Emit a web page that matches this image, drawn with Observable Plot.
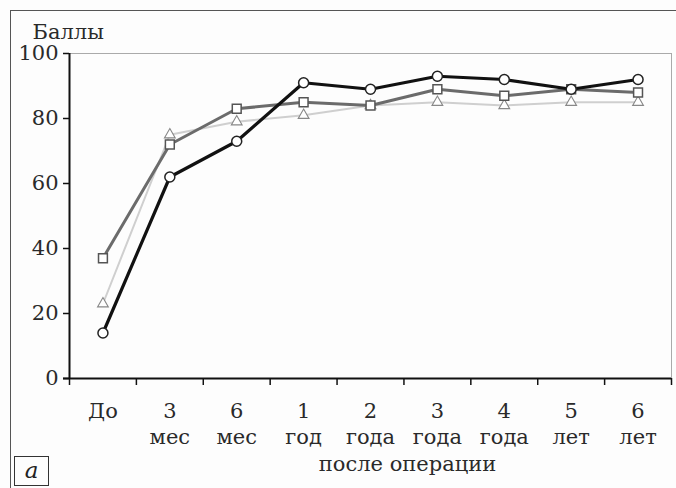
<!DOCTYPE html>
<html>
<head>
<meta charset="utf-8">
<script src="https://cdn.jsdelivr.net/npm/d3@7"></script>
<script src="https://cdn.jsdelivr.net/npm/@observablehq/plot@0.6"></script>
<style>
  html, body { margin: 0; padding: 0; background: #fdfdfd; }
  #wrap { position: relative; width: 676px; height: 488px; overflow: hidden; }
  #outer { position: absolute; left: 10px; top: 10px; width: 700px; height: 500px;
           border-top: 1.5px solid #555; border-left: 1.5px solid #555; }
  #tag { position: absolute; left: 14px; top: 456px; width: 33px; height: 28px;
         border: 1.5px solid #333; font-family: "DejaVu Serif", serif; font-style: italic;
         font-size: 23px; line-height: 26px; text-align: center; color: #222; background: #fdfdfd; }
</style>
</head>
<body>
<div id="wrap">
  <div id="outer"></div>
  <div id="chart"></div>
  <div id="tag">а</div>
</div>
<script>
const categories = ["До", "3\nмес", "6\nмес", "1\nгод", "2\nгода", "3\nгода", "4\nгода", "5\nлет", "6\nлет"];
const circleValues   = [14, 62, 73, 91, 89, 93, 92, 89, 92];
const squareValues   = [37, 72, 83, 85, 84, 89, 87, 89, 88];
const triangleValues = [23, 75, 79, 81, 84, 85, 84, 85, 85];
const yTicks = [0, 20, 40, 60, 80, 100];
const yTitle = "Баллы";
const xTitle = "после операции";

const idx = d3.range(categories.length);
const boundaries = d3.range(categories.length + 1).map(i => i - 0.5);
const toRows = vals => vals.map((v, i) => ({i, v}));
const circ = toRows(circleValues), sq = toRows(squareValues), tri = toRows(triangleValues);

const chart = Plot.plot({
  width: 676,
  height: 488,
  marginLeft: 69,
  marginRight: 5,
  marginTop: 53,
  marginBottom: 110,
  style: {fontFamily: "DejaVu Serif, serif", fontSize: "21px", color: "#2a2a2a", background: "transparent"},
  x: {type: "linear", domain: [-0.5, categories.length - 0.5], axis: null},
  y: {domain: [0, 100], axis: null},
  marks: [
    Plot.frame({stroke: "#aaa", strokeWidth: 1}),
    Plot.line(tri, {x: "i", y: "v", stroke: "#cfcfcf", strokeWidth: 2}),
    Plot.line(sq, {x: "i", y: "v", stroke: "#6b6b6b", strokeWidth: 3}),
    Plot.line(circ, {x: "i", y: "v", stroke: "#111", strokeWidth: 3.2}),
    Plot.dot(tri, {x: "i", y: "v", symbol: "triangle", r: 4, fill: "white", stroke: "#888", strokeWidth: 1.1}),
    Plot.dot(sq, {x: "i", y: "v", symbol: "square", r: 5, fill: "white", stroke: "#555", strokeWidth: 1.5}),
    Plot.dot(circ, {x: "i", y: "v", symbol: "circle", r: 5, fill: "white", stroke: "#222", strokeWidth: 1.5}),
    Plot.ruleX([-0.5], {stroke: "#111", strokeWidth: 2}),
    Plot.ruleY([0], {stroke: "#111", strokeWidth: 2, insetLeft: -6}),
    Plot.axisY(yTicks, {tickSize: 6, tickPadding: 5, strokeWidth: 1.5, stroke: "#111", label: null}),
    Plot.axisX(boundaries, {tickSize: 7, strokeWidth: 1.5, stroke: "#111", tickFormat: () => "", label: null}),
    Plot.axisX(idx, {tickSize: 0, tickPadding: 22, tickFormat: i => categories[i], lineHeight: 1.2, label: null}),
    Plot.text([yTitle], {frameAnchor: "top-left", dx: -37, dy: -15, textAnchor: "start", lineAnchor: "bottom"}),
    Plot.text([xTitle], {frameAnchor: "bottom", dx: 37, dy: 92, lineAnchor: "bottom", letterSpacing: 0.5})
  ]
});
document.getElementById("chart").appendChild(chart);
</script>
</body>
</html>
